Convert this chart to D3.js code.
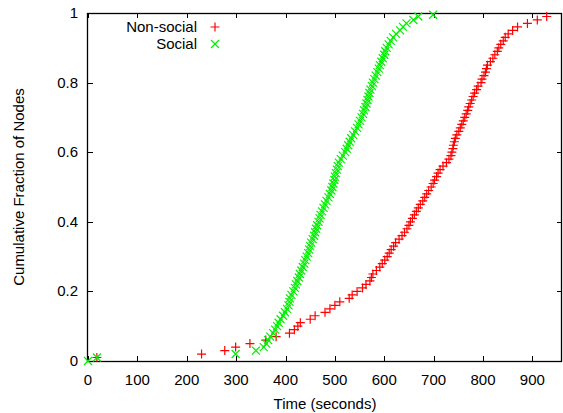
<!DOCTYPE html>
<head>
<meta charset="utf-8">
<script src="https://d3js.org/d3.v7.min.js"></script>
<style>
  * { margin: 0; padding: 0; }
  body { background: #fff; }
  text { font-family: 'Liberation Sans', Arial, sans-serif; font-size: 15px; fill: #000; }
</style>
</head>
<body>
<svg id="chart"></svg>
<script>
// tick values
const xTicks = [0, 100, 200, 300, 400, 500, 600, 700, 800, 900];
const yTicks = [0, 0.2, 0.4, 0.6, 0.8, 1];

// Non-social: [time (s), cumulative fraction]
const nonSocial = [
  [18,0.01],[230,0.02],[277,0.03],[299,0.04],[328,0.05],[360,0.06],[381,0.07],[408,0.08],[418,0.09],[425,0.10],
  [430,0.11],[450,0.12],[460,0.13],[480,0.14],[490,0.15],[500,0.16],[510,0.17],[529,0.18],[535,0.19],[545,0.20],
  [556,0.21],[563,0.22],[571,0.23],[574,0.24],[577,0.25],[584,0.26],[591,0.27],[596,0.28],[601,0.29],[606,0.30],
  [610,0.31],[614,0.32],[619,0.33],[623,0.34],[630,0.35],[636,0.36],[641,0.37],[646,0.38],[650,0.39],[653,0.40],
  [657,0.41],[661,0.42],[665,0.43],[669,0.44],[673,0.45],[678,0.46],[682,0.47],[686,0.48],[690,0.49],[695,0.50],
  [699,0.51],[702,0.52],[706,0.53],[709,0.54],[713,0.55],[719,0.56],[726,0.57],[731,0.58],[735,0.59],[737,0.60],
  [739,0.61],[740,0.62],[742,0.63],[744,0.64],[747,0.65],[751,0.66],[754,0.67],[757,0.68],[760,0.69],[763,0.70],
  [766,0.71],[769,0.72],[771,0.73],[774,0.74],[777,0.75],[780,0.76],[783,0.77],[787,0.78],[790,0.79],[796,0.80],
  [798,0.81],[802,0.82],[805,0.83],[807,0.84],[809,0.85],[815,0.86],[820,0.87],[824,0.88],[829,0.89],[832,0.90],
  [836,0.91],[841,0.92],[845,0.93],[851,0.94],[860,0.95],[870,0.96],[890,0.97],[910,0.98],[929,0.99]
];

// Social: [time (s), cumulative fraction]
const social = [
  [0,0.00],[18,0.01],[299,0.02],[340,0.03],[356,0.04],[361,0.05],[365,0.06],[369,0.07],[375,0.08],[379,0.09],
  [383,0.10],[386,0.11],[390,0.12],[395,0.13],[399,0.14],[403,0.15],[406,0.16],[408,0.17],[409,0.18],[412,0.19],
  [416,0.20],[419,0.21],[421,0.22],[424,0.23],[427,0.24],[429,0.25],[432,0.26],[435,0.27],[438,0.28],[440,0.29],
  [443,0.30],[446,0.31],[448,0.32],[450,0.33],[452,0.34],[455,0.35],[458,0.36],[460,0.37],[462,0.38],[464,0.39],
  [467,0.40],[469,0.41],[471,0.42],[474,0.43],[477,0.44],[480,0.45],[483,0.46],[487,0.47],[490,0.48],[493,0.49],
  [495,0.50],[497,0.51],[499,0.52],[500,0.53],[502,0.54],[504,0.55],[506,0.56],[508,0.57],[512,0.58],[516,0.59],
  [521,0.60],[524,0.61],[527,0.62],[530,0.63],[533,0.64],[537,0.65],[541,0.66],[545,0.67],[548,0.68],[551,0.69],
  [554,0.70],[557,0.71],[559,0.72],[562,0.73],[564,0.74],[566,0.75],[568,0.76],[570,0.77],[572,0.78],[575,0.79],
  [577,0.80],[580,0.81],[583,0.82],[586,0.83],[589,0.84],[591,0.85],[594,0.86],[597,0.87],[600,0.88],[602,0.89],
  [605,0.90],[609,0.91],[613,0.92],[618,0.93],[624,0.94],[632,0.95],[638,0.96],[645,0.97],[659,0.98],[669,0.99],
  [699,0.995]
];

const W = 563, H = 413;
const m = {left: 88, right: 1, top: 13, bottom: 52};

const svg = d3.select("#chart").attr("width", W).attr("height", H);

const x = d3.scaleLinear().domain([0, 960]).range([m.left, W - m.right]);
const y = d3.scaleLinear().domain([0, 1]).range([H - m.bottom, m.top]);

const tickLen = 5;
const axes = svg.append("g");

// ticks on all four sides (gnuplot mirror style)
axes.selectAll("line.xb").data(xTicks).join("line")
  .attr("x1", d => Math.round(x(d)) + 0.5).attr("x2", d => Math.round(x(d)) + 0.5)
  .attr("y1", y(0)).attr("y2", y(0) - tickLen).attr("stroke", "#000");
axes.selectAll("line.xt").data(xTicks).join("line")
  .attr("x1", d => Math.round(x(d)) + 0.5).attr("x2", d => Math.round(x(d)) + 0.5)
  .attr("y1", y(1)).attr("y2", y(1) + tickLen).attr("stroke", "#000");
axes.selectAll("line.yl").data(yTicks).join("line")
  .attr("y1", d => Math.round(y(d)) + 0.5).attr("y2", d => Math.round(y(d)) + 0.5)
  .attr("x1", x(0)).attr("x2", x(0) + tickLen).attr("stroke", "#000");
axes.selectAll("line.yr").data(yTicks).join("line")
  .attr("y1", d => Math.round(y(d)) + 0.5).attr("y2", d => Math.round(y(d)) + 0.5)
  .attr("x1", x(960)).attr("x2", x(960) - tickLen).attr("stroke", "#000");

// tick labels
axes.selectAll("text.xl").data(xTicks).join("text")
  .attr("x", d => x(d)).attr("y", y(0) + 24)
  .attr("text-anchor", "middle").text(d => d);
axes.selectAll("text.yl").data(yTicks).join("text")
  .attr("x", x(0) - 10).attr("y", d => y(d) + 5)
  .attr("text-anchor", "end").text(d => d);

// frame
axes.append("rect")
  .attr("x", x(0) - 0.5).attr("y", y(1) + 0.5)
  .attr("width", x(960) - x(0)).attr("height", y(0) - y(1))
  .attr("fill", "none").attr("stroke", "#000").attr("stroke-width", 1.3);

// axis titles
svg.append("text").attr("x", (x(0) + x(960)) / 2).attr("y", 409)
  .attr("text-anchor", "middle").text("Time (seconds)");
svg.append("text").attr("transform", "translate(24," + ((y(0) + y(1)) / 2) + ") rotate(-90)")
  .attr("text-anchor", "middle").text("Cumulative Fraction of Nodes");

// markers
const red = "#ff0000", green = "#00ee00";
const plus = "M-4.5,0H4.5M0,-4.5V4.5";
const cross = "M-4,-4L4,4M-4,4L4,-4";

svg.append("g").selectAll("path").data(nonSocial).join("path")
  .attr("transform", d => `translate(${x(d[0])},${y(d[1])})`)
  .attr("d", plus).attr("stroke", red).attr("stroke-width", 1.2).attr("fill", "none");

svg.append("g").selectAll("path").data(social).join("path")
  .attr("transform", d => `translate(${x(d[0])},${y(d[1])})`)
  .attr("d", cross).attr("stroke", green).attr("stroke-width", 1.2).attr("fill", "none");

// legend
const legend = svg.append("g");
legend.append("text").attr("x", 197).attr("y", 32).attr("text-anchor", "end").text("Non-social");
legend.append("text").attr("x", 197).attr("y", 49).attr("text-anchor", "end").text("Social");
legend.append("path").attr("transform", "translate(215,27)").attr("d", plus)
  .attr("stroke", red).attr("stroke-width", 1.2);
legend.append("path").attr("transform", "translate(215,44)").attr("d", cross)
  .attr("stroke", green).attr("stroke-width", 1.2);
</script>
</body>
</html>
